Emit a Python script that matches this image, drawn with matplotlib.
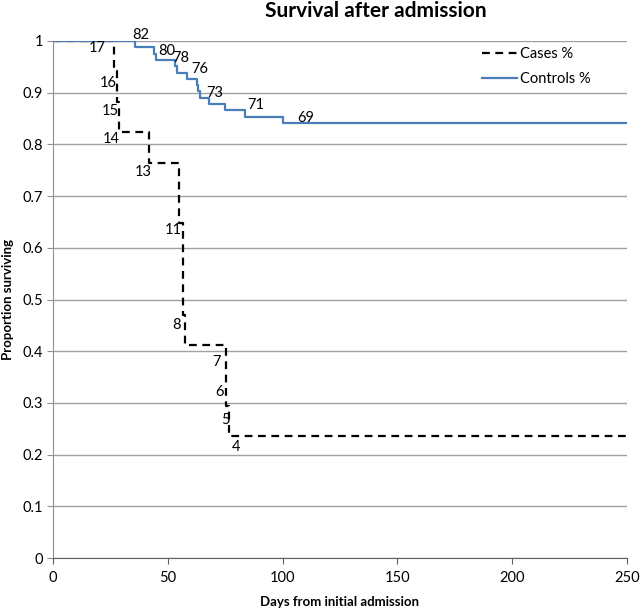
import matplotlib
matplotlib.use("Agg")
import matplotlib.pyplot as plt
import numpy as np

plt.rcParams['font.family'] = ['Lato', 'DejaVu Sans']

# Cases (n=17): step times (days) and number surviving
case_times = [0, 26.5, 27.9, 28.7, 41.9, 55.0, 56.7, 57.5, 75.3, 76.6, 250]
case_n = [17, 16, 15, 14, 13, 11, 8, 7, 5, 4, 4]
case_total = 17

# Controls (n=82)
ctrl_times = [0, 35.7, 44.0, 45.0, 53.0, 54.0, 58.2, 62.6, 63.2, 64.0, 68.0, 75.0, 83.6, 100.0, 250]
ctrl_n = [82, 81, 80, 79, 78, 77, 76, 75, 74, 73, 72, 71, 70, 69, 69]
ctrl_total = 82

# Number-at-risk labels (text, x, y)
case_labels = ["17", "16", "15", "14", "13", "11", "8", "7", "6", "5", "4"]
case_lab_x = [19.4, 24.0, 24.8, 25.3, 39.2, 52.3, 54.0, 71.0, 72.7, 75.3, 79.7]
case_lab_y = [0.986, 0.919, 0.864, 0.810, 0.747, 0.634, 0.451, 0.379, 0.321, 0.267, 0.215]

ctrl_labels = ["82", "80", "78", "76", "73", "71", "69"]
ctrl_lab_x = [38.1, 49.4, 55.7, 63.8, 70.3, 88.2, 110.0]
ctrl_lab_y = [1.012, 0.980, 0.968, 0.945, 0.900, 0.877, 0.851]

fig = plt.figure(figsize=(6.4, 6.09), dpi=100)
ax = fig.add_axes([53/640, 1-558/609, (627-53)/640, (558-41)/609])

case_p = np.array(case_n) / case_total
ctrl_p = np.array(ctrl_n) / ctrl_total

ax.plot(case_times, case_p, drawstyle='steps-post', color='black', lw=1.6,
        linestyle=(0, (3.5, 2.5)), label='Cases %', zorder=3)
ax.plot(ctrl_times, ctrl_p, drawstyle='steps-post', color='#4a7ebb', lw=1.6,
        label='Controls %', zorder=4)

for t, x, y in zip(case_labels, case_lab_x, case_lab_y):
    ax.text(x, y, t, ha='center', va='center', fontsize=10.5, color='black', zorder=5)
for t, x, y in zip(ctrl_labels, ctrl_lab_x, ctrl_lab_y):
    ax.text(x, y, t, ha='center', va='center', fontsize=10.5, color='black', zorder=5)

ax.set_xlim(0, 250)
ax.set_ylim(0, 1)
ax.set_xticks([0, 50, 100, 150, 200, 250])
ax.set_yticks(np.arange(0, 1.01, 0.1))
ax.set_yticklabels(['0', '0.1', '0.2', '0.3', '0.4', '0.5', '0.6', '0.7', '0.8', '0.9', '1'])
ax.yaxis.grid(True, color='#a0a0a0', lw=1.0)
ax.set_axisbelow(True)
for s in ['top', 'right']:
    ax.spines[s].set_visible(False)
ax.spines['left'].set_color('#909090')
ax.spines['bottom'].set_color('#606060')
ax.tick_params(axis='y', length=4, color='#909090', labelsize=10.5, pad=3)
ax.tick_params(axis='x', length=4, color='#606060', labelsize=10.5, pad=5)

fig.text(376/640, 1-11/609, 'Survival after admission', ha='center', va='center',
         fontsize=15, fontweight='bold')
ax.set_xlabel('Days from initial admission', fontsize=9.5, fontweight='bold', labelpad=8)
ax.set_ylabel('Proportion surviving', fontsize=9.5, fontweight='bold', labelpad=6)

ax.legend(loc='upper right', bbox_to_anchor=(0.96, 1.013), frameon=False, fontsize=10.5,
          handlelength=2.4, handletextpad=0.2, labelspacing=0.75)

fig.savefig('out.png', dpi=100)
